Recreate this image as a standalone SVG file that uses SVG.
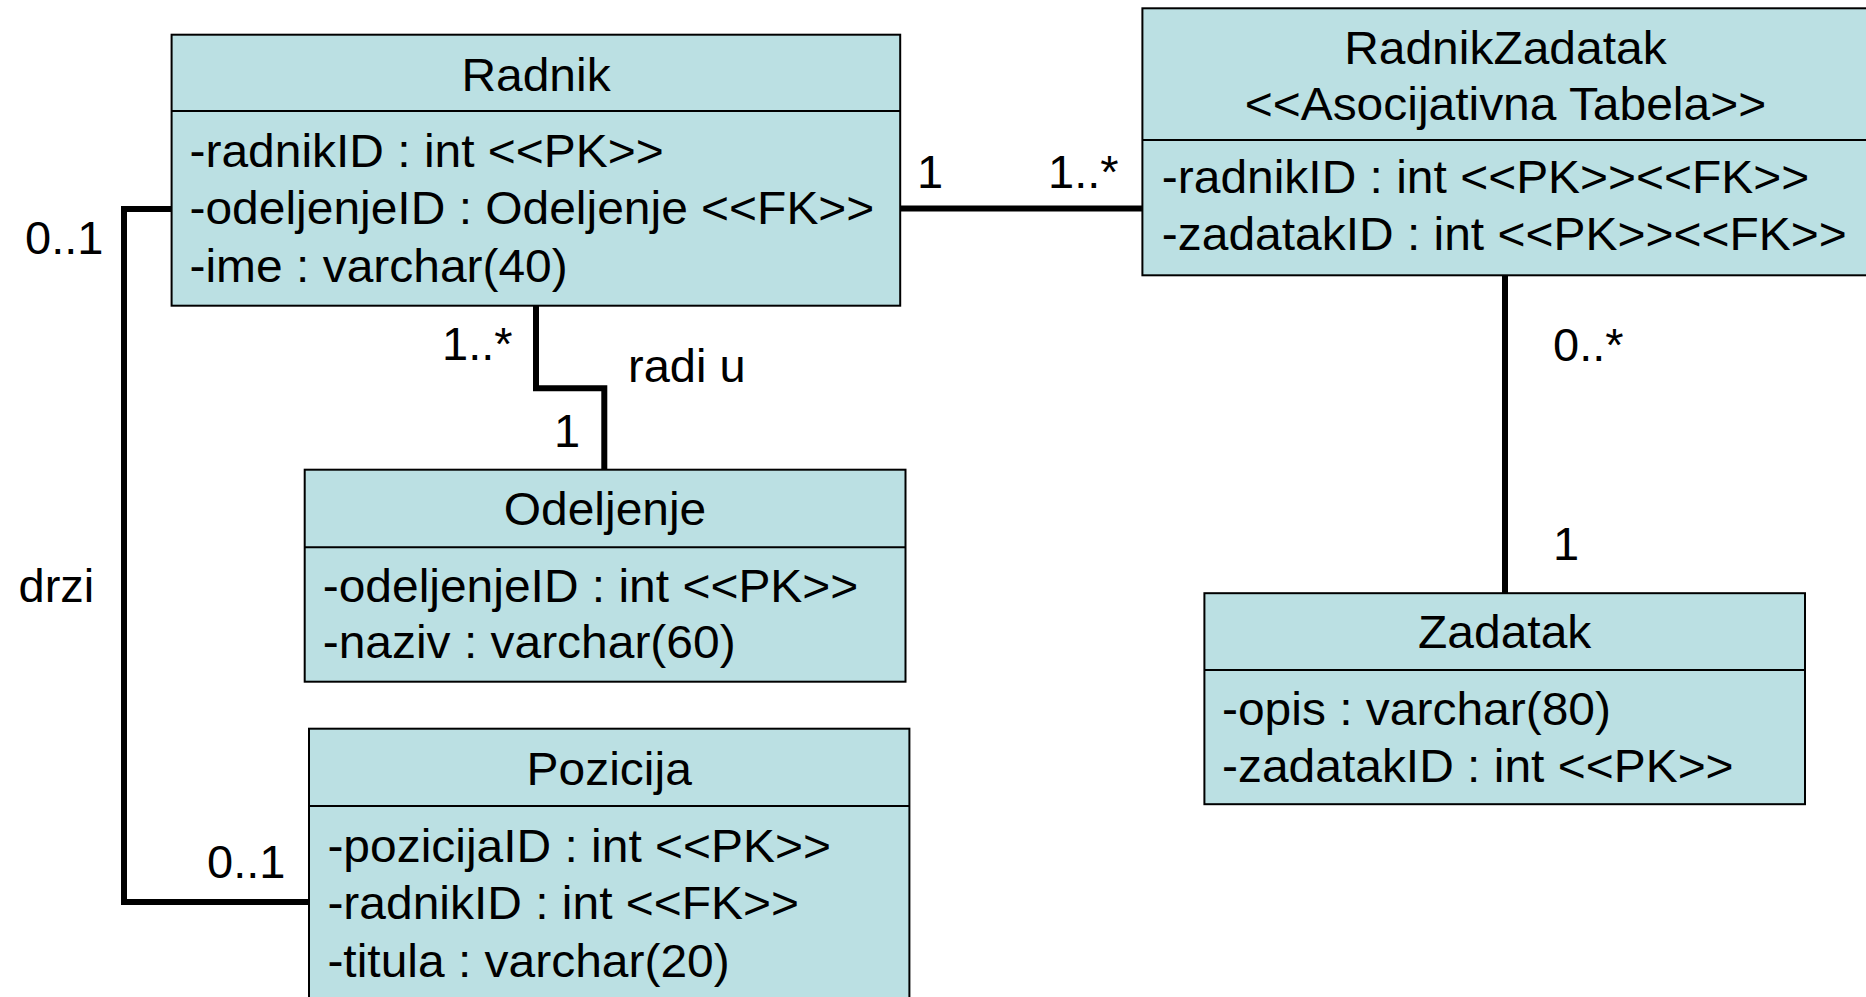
<svg xmlns="http://www.w3.org/2000/svg" width="1866" height="997" viewBox="0 0 1866 997">
<style>
.box{fill:#BBE0E3;stroke:#000;stroke-width:2}
.div{stroke:#000;stroke-width:2}
.t{font-family:"Liberation Sans",Arial,sans-serif;font-size:47px;fill:#000}
.c{text-anchor:middle}
.lbl{font-family:"Liberation Sans",Arial,sans-serif;font-size:47px;fill:#000}
.con{fill:none;stroke:#000;stroke-width:6;stroke-linejoin:miter}
</style>
<rect width="1866" height="997" fill="#fff"/>
<g id="connectors">
<path class="con" d="M900,208.5 H1142.4"/>
<path class="con" d="M536,305.7 V388.3 H604.3 V469.7"/>
<path class="con" d="M171.6,209 H124 V902 H309"/>
<path class="con" d="M1505,276 V593.2"/>
<text class="lbl" x="917" y="188">1</text>
<text class="lbl" x="1048" y="188">1..*</text>
<text class="lbl" x="442" y="360">1..*</text>
<text class="lbl" x="628" y="381.7">radi u</text>
<text class="lbl" x="554" y="446.7">1</text>
<text class="lbl" x="25" y="254">0..1</text>
<text class="lbl" x="18.5" y="602">drzi</text>
<text class="lbl" x="207" y="878">0..1</text>
<text class="lbl" x="1553" y="361">0..*</text>
<text class="lbl" x="1553" y="560">1</text>
</g>
<g id="radnik">
<rect class="box" x="171.6" y="34.7" width="728.6" height="271"/>
<line class="div" x1="171.6" y1="111" x2="900.2" y2="111"/>
<text class="t c" transform="translate(536 90.7) scale(1.02 1)">Radnik</text>
<text class="t" transform="translate(189.5 166.7) scale(1.02 1)">-radnikID : int &lt;&lt;PK&gt;&gt;</text>
<text class="t" transform="translate(189.5 224.2) scale(1.02 1)">-odeljenjeID : Odeljenje &lt;&lt;FK&gt;&gt;</text>
<text class="t" transform="translate(189.5 281.7) scale(1.02 1)">-ime : varchar(40)</text>
</g>
<g id="radnikzadatak">
<rect class="box" x="1142.4" y="8.3" width="740" height="267"/>
<line class="div" x1="1142.4" y1="140" x2="1870" y2="140"/>
<text class="t c" transform="translate(1505.4 64) scale(1.02 1)">RadnikZadatak</text>
<text class="t c" transform="translate(1505.4 120) scale(1.02 1)">&lt;&lt;Asocijativna Tabela&gt;&gt;</text>
<text class="t" transform="translate(1161.8 193.3) scale(1.02 1)">-radnikID : int &lt;&lt;PK&gt;&gt;&lt;&lt;FK&gt;&gt;</text>
<text class="t" transform="translate(1161.8 250) scale(1.02 1)">-zadatakID : int &lt;&lt;PK&gt;&gt;&lt;&lt;FK&gt;&gt;</text>
</g>
<g id="odeljenje">
<rect class="box" x="304.7" y="469.7" width="600.8" height="212"/>
<line class="div" x1="304.7" y1="547.3" x2="905.5" y2="547.3"/>
<text class="t c" transform="translate(605 525) scale(1.02 1)">Odeljenje</text>
<text class="t" transform="translate(322.7 601.7) scale(1.02 1)">-odeljenjeID : int &lt;&lt;PK&gt;&gt;</text>
<text class="t" transform="translate(322.7 658.3) scale(1.02 1)">-naziv : varchar(60)</text>
</g>
<g id="pozicija">
<rect class="box" x="309" y="728.7" width="600.4" height="290"/>
<line class="div" x1="309" y1="806" x2="909.4" y2="806"/>
<text class="t c" transform="translate(609.2 785) scale(1.02 1)">Pozicija</text>
<text class="t" transform="translate(327.4 862.3) scale(1.02 1)">-pozicijaID : int &lt;&lt;PK&gt;&gt;</text>
<text class="t" transform="translate(327.4 919) scale(1.02 1)">-radnikID : int &lt;&lt;FK&gt;&gt;</text>
<text class="t" transform="translate(327.4 976.7) scale(1.02 1)">-titula : varchar(20)</text>
</g>
<g id="zadatak">
<rect class="box" x="1204.4" y="593.2" width="600.6" height="211"/>
<line class="div" x1="1204.4" y1="670" x2="1805" y2="670"/>
<text class="t c" transform="translate(1504.7 648) scale(1.02 1)">Zadatak</text>
<text class="t" transform="translate(1222 725) scale(1.02 1)">-opis : varchar(80)</text>
<text class="t" transform="translate(1222 782) scale(1.02 1)">-zadatakID : int &lt;&lt;PK&gt;&gt;</text>
</g>
</svg>
